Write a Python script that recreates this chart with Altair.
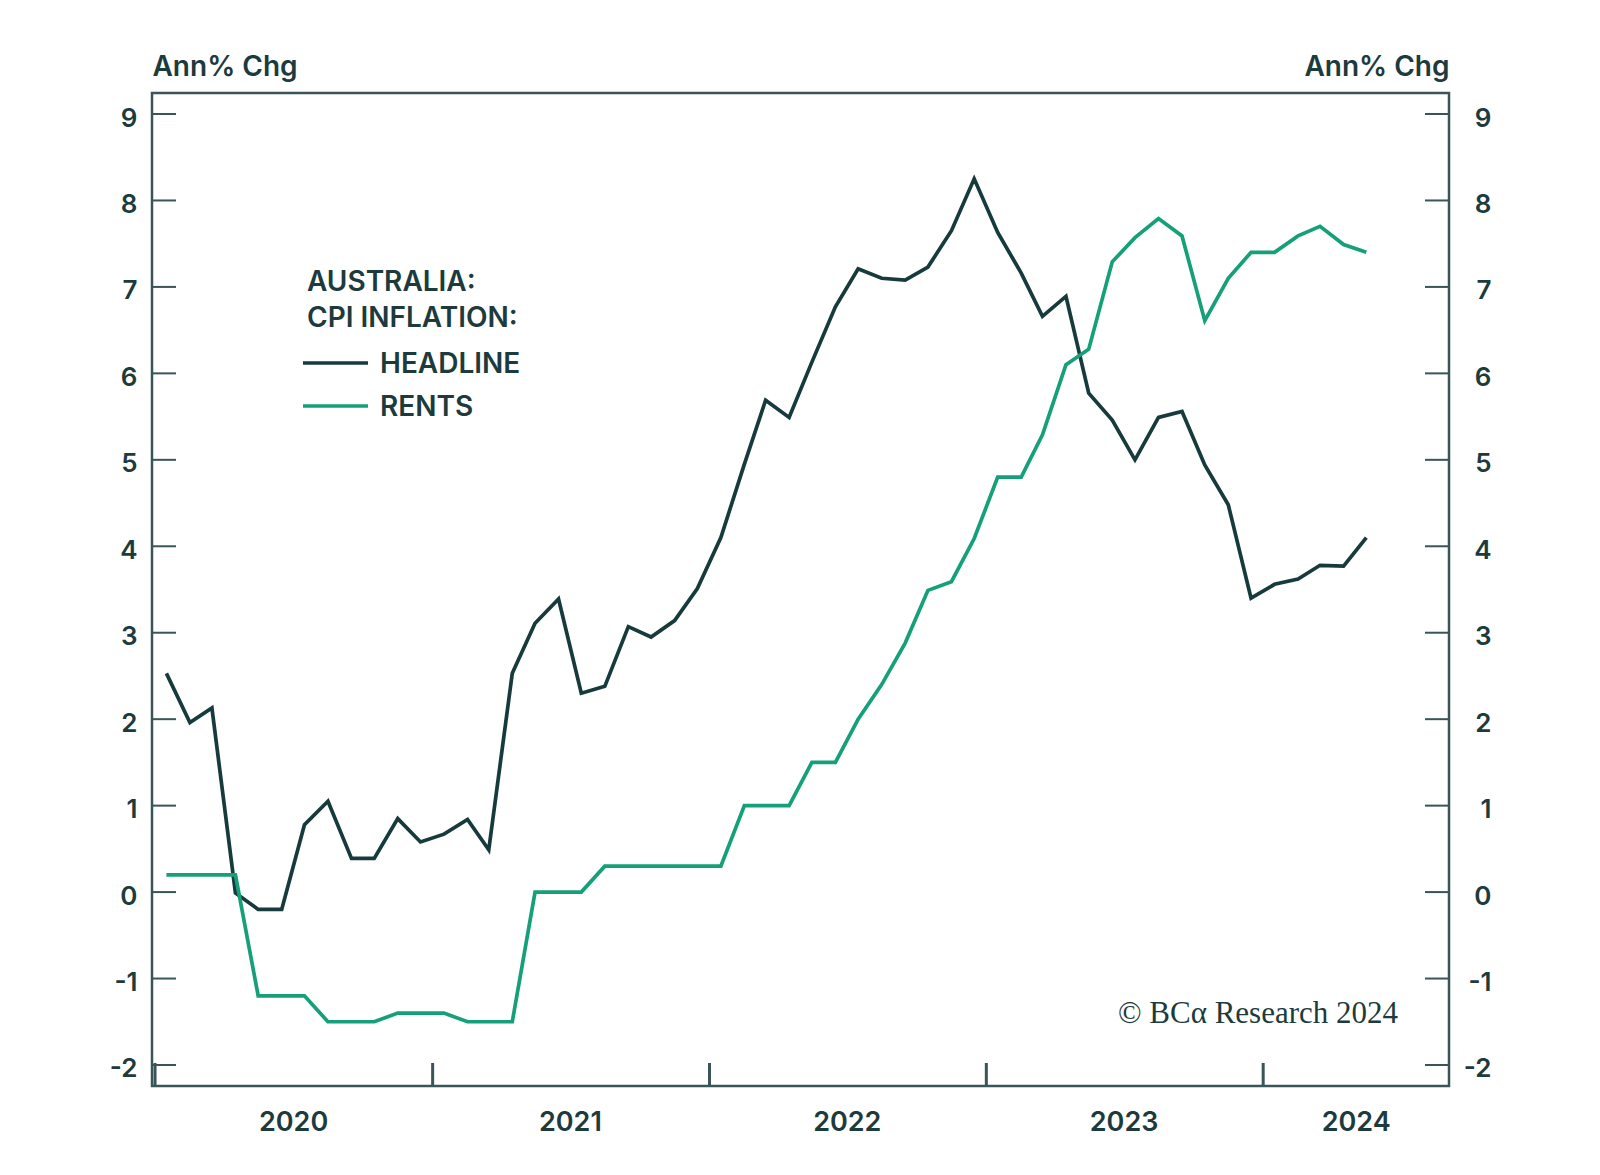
import altair as alt
import pandas as pd

# ---------------- data ----------------
dates = [f"{y}-{m:02d}-16" for y in range(2020, 2025) for m in range(1, 13)][:53]

headline = [2.53, 1.96, 2.13, -0.01, -0.20, -0.20, 0.78, 1.05, 0.39, 0.39, 0.85, 0.58,
            0.67, 0.84, 0.49, 2.53, 3.11, 3.39, 2.30, 2.38, 3.07, 2.95, 3.14, 3.51,
            4.10, 4.95, 5.69, 5.49, 6.13, 6.77, 7.21, 7.10, 7.08, 7.23, 7.65, 8.25,
            7.63, 7.16, 6.66, 6.89, 5.77, 5.46, 5.00, 5.49, 5.56, 4.94, 4.48, 3.40,
            3.56, 3.62, 3.78, 3.77, 4.10]

rents = [0.2, 0.2, 0.2, 0.2, -1.2, -1.2, -1.2, -1.5, -1.5, -1.5, -1.4, -1.4,
         -1.4, -1.5, -1.5, -1.5, 0.0, 0.0, 0.0, 0.3, 0.3, 0.3, 0.3, 0.3,
         0.3, 1.0, 1.0, 1.0, 1.5, 1.5, 2.0, 2.4, 2.88, 3.49, 3.59, 4.09,
         4.8, 4.8, 5.29, 6.10, 6.28, 7.29, 7.57, 7.79, 7.59, 6.61, 7.10, 7.40,
         7.40, 7.59, 7.70, 7.49, 7.40]

series_names = ["HEADLINE", "RENTS"]
series_colors = ["#173a3c", "#15a07a"]
y_ticks = list(range(-2, 10))
year_tick_dates = ["2020-01-01", "2021-01-01", "2022-01-01", "2023-01-01", "2024-01-01"]
year_label_dates = ["2020-07-01", "2021-07-01", "2022-07-01", "2023-07-01", "2024-05-02"]
x_domain_dates = ["2019-12-28", "2024-09-02"]
legend_title = ["AUSTRALIA:", "CPI INFLATION:"]
unit_title = "Ann% Chg"
credit = "© BCα Research 2024"

# ---------------- helpers ----------------
def ms(d):
    return int(pd.Timestamp(d, tz="UTC").value // 10**6)

df = pd.DataFrame({
    "date": dates * 2,
    "value": headline + rents,
    "series": [series_names[0]] * len(headline) + [series_names[1]] * len(rents),
})

TEXT = "#1d3a3d"
FRAME = "#3a5457"
FONT = "Inter"
W, H = 1297, 993
TICK = 23

x_scale = alt.Scale(type="utc", domain=[ms(d) for d in x_domain_dates])
y_scale = alt.Scale(domain=[-2.243, 9.243], nice=False, zero=False)

x_axis = alt.Axis(
    values=[ms(d) for d in year_label_dates],
    labelExpr="utcFormat(datum.value, '%Y')",
    ticks=False, domain=False, grid=False, title=None,
    labelPadding=23, labelFontSize=27, labelFlush=False, labelOverlap=False,
)

lines = alt.Chart(df).mark_line(strokeWidth=3.7, strokeJoin="miter").encode(
    x=alt.X("date:T", scale=x_scale, axis=x_axis),
    y=alt.Y("value:Q", scale=y_scale, axis=alt.Axis(
        values=y_ticks, labelExpr="'' + datum.value", ticks=False, domain=False, grid=False,
        labelPadding=15, labelFontSize=26, labelOffset=4,
        title=unit_title, titleAngle=0, titleAlign="left", titleBaseline="alphabetic",
        titleX=0, titleY=-18, titleFontSize=28,
    )),
    color=alt.Color("series:N", scale=alt.Scale(domain=series_names, range=series_colors), legend=None),
)

ytick_df = pd.DataFrame({"v": y_ticks})

left_ticks = alt.Chart(ytick_df).mark_rule(color=FRAME, strokeWidth=2).encode(
    y=alt.Y("v:Q", scale=y_scale, axis=None),
    x=alt.value(0), x2=alt.value(TICK + 1),
)

right_ticks = alt.Chart(ytick_df).mark_rule(color=FRAME, strokeWidth=2).encode(
    y=alt.Y("v:Q", scale=y_scale, axis=alt.Axis(
        orient="right", values=y_ticks, labelExpr="'' + datum.value",
        ticks=False, domain=False, grid=False,
        labelPadding=42, labelAlign="right", labelFontSize=26, labelOffset=4,
        title=unit_title, titleAngle=0, titleAlign="right", titleBaseline="alphabetic",
        titleX=0, titleY=-18, titleFontSize=28,
    )),
    x=alt.value(W - TICK - 1), x2=alt.value(W),
)

year_ticks = alt.Chart(pd.DataFrame({"d": year_tick_dates})).mark_rule(color=FRAME, strokeWidth=3).encode(
    x=alt.X("d:T", scale=x_scale, axis=x_axis),
    y=alt.value(H - TICK), y2=alt.value(H),
)

# ---------------- legend (manual, inside the plot) ----------------
def label(txt, x, y, size=28, font=FONT, weight=600, align="left"):
    return alt.Chart(pd.DataFrame({"t": [txt]})).mark_text(
        align=align, baseline="alphabetic", font=font, fontSize=size,
        fontWeight=weight, color=TEXT,
    ).encode(text="t:N", x=alt.value(x), y=alt.value(y))

def swatch(color, y):
    return alt.Chart(pd.DataFrame({"s": [0]})).mark_rule(color=color, strokeWidth=3.7).encode(
        x=alt.value(151), x2=alt.value(216), y=alt.value(y),
    )

legend_layers = [
    label(legend_title[0], 155, 198),
    label(legend_title[1], 155, 234),
    swatch(series_colors[0], 270),
    label(series_names[0], 228, 280),
    swatch(series_colors[1], 313),
    label(series_names[1], 228, 323),
    label(credit, 1246, 930, size=31, font="Liberation Serif", weight=400, align="right"),
]

chart = alt.layer(
    lines, left_ticks, right_ticks, year_ticks, *legend_layers
).resolve_scale(y="shared", x="shared").resolve_axis(y="independent").properties(
    width=W, height=H,
    autosize=alt.AutoSizeParams(type="none"),
    padding={"left": 144, "top": 85, "right": 100, "bottom": 70},
    background="white",
).configure_view(
    stroke=FRAME, strokeWidth=2.5,
).configure_axis(
    labelFont=FONT, labelFontWeight=600, labelColor=TEXT,
    titleFont=FONT, titleFontWeight=600, titleColor=TEXT,
)

chart.save("out.html", embed_options={"renderer": "svg", "actions": False})
